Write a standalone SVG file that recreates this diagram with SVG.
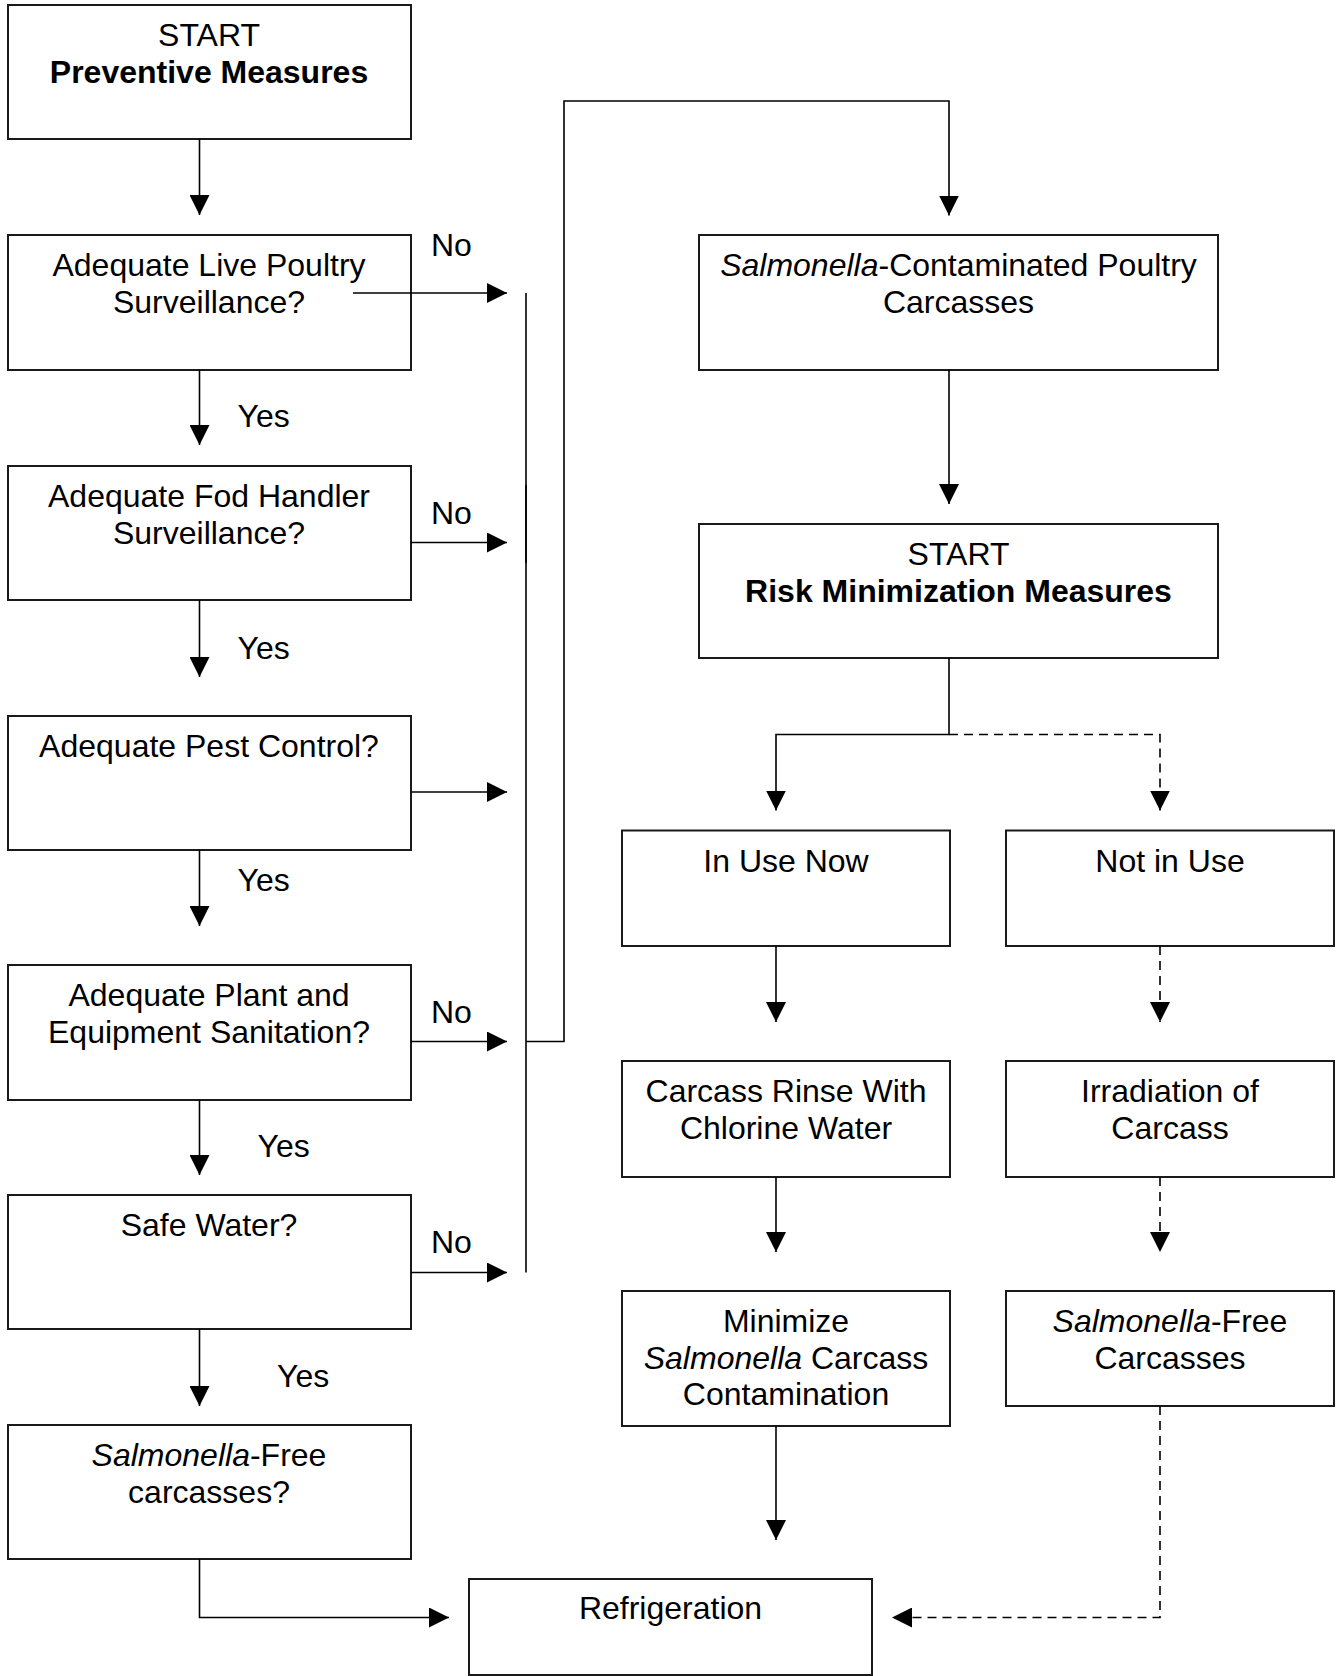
<svg xmlns="http://www.w3.org/2000/svg" width="1337" height="1676" viewBox="0 0 1337 1676">
  <style>
    .box { fill: #ffffff; stroke: #1a1a1a; stroke-width: 2; }
    .t { font-family: "Liberation Sans", Arial, sans-serif; font-size: 32px; fill: #000000; text-anchor: middle; }
    .lbl { font-family: "Liberation Sans", Arial, sans-serif; font-size: 32px; fill: #000000; }
    .b { font-weight: bold; }
    .i { font-style: italic; }
    .ln { fill: none; stroke: #000000; stroke-width: 1.6; }
    .dash { stroke-dasharray: 9 6; }
  </style>
  <defs>
    <marker id="arrow" viewBox="0 0 20 20" refX="20" refY="10" markerWidth="20" markerHeight="20" markerUnits="userSpaceOnUse" orient="auto">
      <path d="M0,0 L20,10 L0,20 z" fill="#000000"/>
    </marker>
  </defs>
  <rect width="1337" height="1676" fill="#ffffff"/>

  <!-- left column -->
  <g id="start-preventive">
    <rect class="box" x="8" y="5" width="403" height="134"/>
    <text class="t" x="209" y="46">START</text>
    <text class="t b" x="209" y="82.5">Preventive Measures</text>
  </g>
  <g id="live-poultry">
    <rect class="box" x="8" y="235" width="403" height="135"/>
    <text class="t" x="209" y="276">Adequate Live Poultry</text>
    <text class="t" x="209" y="312.5">Surveillance?</text>
  </g>
  <g id="food-handler">
    <rect class="box" x="8" y="466" width="403" height="134"/>
    <text class="t" x="209" y="507">Adequate Fod Handler</text>
    <text class="t" x="209" y="543.5">Surveillance?</text>
  </g>
  <g id="pest-control">
    <rect class="box" x="8" y="716" width="403" height="134"/>
    <text class="t" x="209" y="757">Adequate Pest Control?</text>
  </g>
  <g id="plant-sanitation">
    <rect class="box" x="8" y="965" width="403" height="135"/>
    <text class="t" x="209" y="1006">Adequate Plant and</text>
    <text class="t" x="209" y="1042.5">Equipment Sanitation?</text>
  </g>
  <g id="safe-water">
    <rect class="box" x="8" y="1195" width="403" height="134"/>
    <text class="t" x="209" y="1236">Safe Water?</text>
  </g>
  <g id="free-question">
    <rect class="box" x="8" y="1425" width="403" height="134"/>
    <text class="t" x="209" y="1466"><tspan class="i">Salmonella</tspan>-Free</text>
    <text class="t" x="209" y="1502.5">carcasses?</text>
  </g>

  <!-- right column -->
  <g id="contaminated">
    <rect class="box" x="699" y="235" width="519" height="135"/>
    <text class="t" x="958.5" y="276"><tspan class="i">Salmonella</tspan>-Contaminated Poultry</text>
    <text class="t" x="958.5" y="312.5">Carcasses</text>
  </g>
  <g id="start-risk">
    <rect class="box" x="699" y="524" width="519" height="134"/>
    <text class="t" x="958.5" y="565">START</text>
    <text class="t b" x="958.5" y="601.5">Risk Minimization Measures</text>
  </g>
  <g id="in-use">
    <rect class="box" x="622" y="830.5" width="328" height="115.5"/>
    <text class="t" x="786" y="871.5">In Use Now</text>
  </g>
  <g id="not-in-use">
    <rect class="box" x="1006" y="830.5" width="328" height="115.5"/>
    <text class="t" x="1170" y="871.5">Not in Use</text>
  </g>
  <g id="chlorine-rinse">
    <rect class="box" x="622" y="1061" width="328" height="116"/>
    <text class="t" x="786" y="1102">Carcass Rinse With</text>
    <text class="t" x="786" y="1138.5">Chlorine Water</text>
  </g>
  <g id="irradiation">
    <rect class="box" x="1006" y="1061" width="328" height="116"/>
    <text class="t" x="1170" y="1102">Irradiation of</text>
    <text class="t" x="1170" y="1138.5">Carcass</text>
  </g>
  <g id="minimize">
    <rect class="box" x="622" y="1291" width="328" height="135"/>
    <text class="t" x="786" y="1332">Minimize</text>
    <text class="t" x="786" y="1368.5"><tspan class="i">Salmonella</tspan> Carcass</text>
    <text class="t" x="786" y="1405">Contamination</text>
  </g>
  <g id="free-carcasses">
    <rect class="box" x="1006" y="1291" width="328" height="115"/>
    <text class="t" x="1170" y="1332"><tspan class="i">Salmonella</tspan>-Free</text>
    <text class="t" x="1170" y="1368.5">Carcasses</text>
  </g>
  <g id="refrigeration">
    <rect class="box" x="469" y="1579" width="403" height="96"/>
    <text class="t" x="670.5" y="1619">Refrigeration</text>
  </g>

  <!-- connectors, drawn over the boxes -->
  <g id="connectors">
    <!-- left column, Yes path -->
    <path class="ln" d="M199.5,139 V215" marker-end="url(#arrow)"/>
    <path class="ln" d="M199.5,370 V445" marker-end="url(#arrow)"/>
    <path class="ln" d="M199.5,600 V677" marker-end="url(#arrow)"/>
    <path class="ln" d="M199.5,850 V926" marker-end="url(#arrow)"/>
    <path class="ln" d="M199.5,1100 V1175" marker-end="url(#arrow)"/>
    <path class="ln" d="M199.5,1329 V1406" marker-end="url(#arrow)"/>
    <path class="ln" d="M199.5,1559 V1617.5 H449" marker-end="url(#arrow)"/>
    <!-- No branches -->
    <path class="ln" d="M353,293 H507" marker-end="url(#arrow)"/>
    <path class="ln" d="M411,542.5 H507" marker-end="url(#arrow)"/>
    <path class="ln" d="M411,792 H507" marker-end="url(#arrow)"/>
    <path class="ln" d="M411,1041.5 H507" marker-end="url(#arrow)"/>
    <path class="ln" d="M411,1272.5 H507" marker-end="url(#arrow)"/>
    <!-- collector bar and loop to contaminated carcasses -->
    <path class="ln" d="M526,293 V563"/>
    <path class="ln" d="M526,485 V1272.5"/>
    <path class="ln" d="M526,1041.5 H564 V101 H949 V215.5" marker-end="url(#arrow)"/>
    <!-- right side -->
    <path class="ln" d="M949,370 V504" marker-end="url(#arrow)"/>
    <path class="ln" d="M949,658 V734.5 H776 V810.5" marker-end="url(#arrow)"/>
    <path class="ln" d="M776,946 V1022" marker-end="url(#arrow)"/>
    <path class="ln" d="M776,1177 V1252" marker-end="url(#arrow)"/>
    <path class="ln" d="M776,1426 V1540" marker-end="url(#arrow)"/>
    <path class="ln dash" d="M949,734.5 H1160 V810.5" marker-end="url(#arrow)"/>
    <path class="ln dash" d="M1160,946 V1022" marker-end="url(#arrow)"/>
    <path class="ln dash" d="M1160,1177 V1252" marker-end="url(#arrow)"/>
    <path class="ln dash" d="M1160,1406 V1617.5 H892" marker-end="url(#arrow)"/>
  </g>

  <!-- branch labels -->
  <g id="labels">
    <text class="lbl" x="431" y="255.5">No</text>
    <text class="lbl" x="431" y="524">No</text>
    <text class="lbl" x="431" y="1022.5">No</text>
    <text class="lbl" x="431" y="1253">No</text>
    <text class="lbl" x="237.5" y="427">Yes</text>
    <text class="lbl" x="237.5" y="658.5">Yes</text>
    <text class="lbl" x="237.5" y="891">Yes</text>
    <text class="lbl" x="257.5" y="1157">Yes</text>
    <text class="lbl" x="277" y="1387">Yes</text>
  </g>
</svg>
